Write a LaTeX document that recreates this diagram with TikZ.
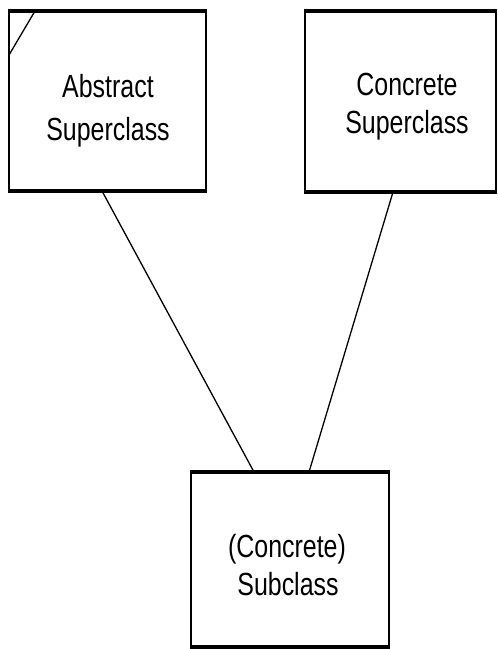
\documentclass[tikz,border=0pt]{standalone}
\usepackage{fontspec}
\setmainfont{Liberation Sans}
\begin{document}
\begin{tikzpicture}[x=1pt,y=-1pt,
  classbox/.style={draw=black,line width=1.8pt,inner sep=0pt,outer sep=0pt,fill=white},
  rim/.style={line width=3.6pt,line cap=butt},
  link/.style={draw=black,line width=1.3pt},
  lbl/.style={anchor=base,inner sep=0pt,font=\fontsize{32}{38}\selectfont},
]
\useasboundingbox[fill=white] (0,0) rectangle (498,649);

% class boxes
\node[classbox,minimum width=197pt,minimum height=180pt] (abs) at (107.5,101) {};
\node[classbox,minimum width=191pt,minimum height=181pt] (con) at (400.5,101.5) {};
\node[classbox,minimum width=198pt,minimum height=175pt] (sub) at (290,559.5) {};

% heavier top and bottom rims
\foreach \b in {abs,con,sub}{
  \draw[rim] ([xshift=-0.9pt]\b.north west) -- ([xshift=0.9pt]\b.north east);
  \draw[rim] ([xshift=-0.9pt]\b.south west) -- ([xshift=0.9pt]\b.south east);
}

% abstract marker in the corner
\draw[link] ([xshift=26pt]abs.north west) -- ([yshift=-44pt]abs.north west);

% labels
\node[lbl] (absA) at (108,97) {\scalebox{0.78}[1]{Abstract}};
\node[lbl] (absB) at (108,140) {\scalebox{0.78}[1]{Superclass}};
\node[lbl] (conA) at (407,95) {\scalebox{0.78}[1]{Concrete}};
\node[lbl] (conB) at (407,133) {\scalebox{0.78}[1]{Superclass}};
\node[lbl] (subA) at (287,557) {\scalebox{0.78}[1]{(Concrete)}};
\node[lbl] (subB) at (288,595) {\scalebox{0.78}[1]{Subclass}};

% generalisation links
\draw[link] ([xshift=93pt]abs.south west) -- ([xshift=63pt]sub.north west);
\draw[link] ([xshift=88pt]con.south west) -- ([xshift=118pt]sub.north west);
\end{tikzpicture}
\end{document}
